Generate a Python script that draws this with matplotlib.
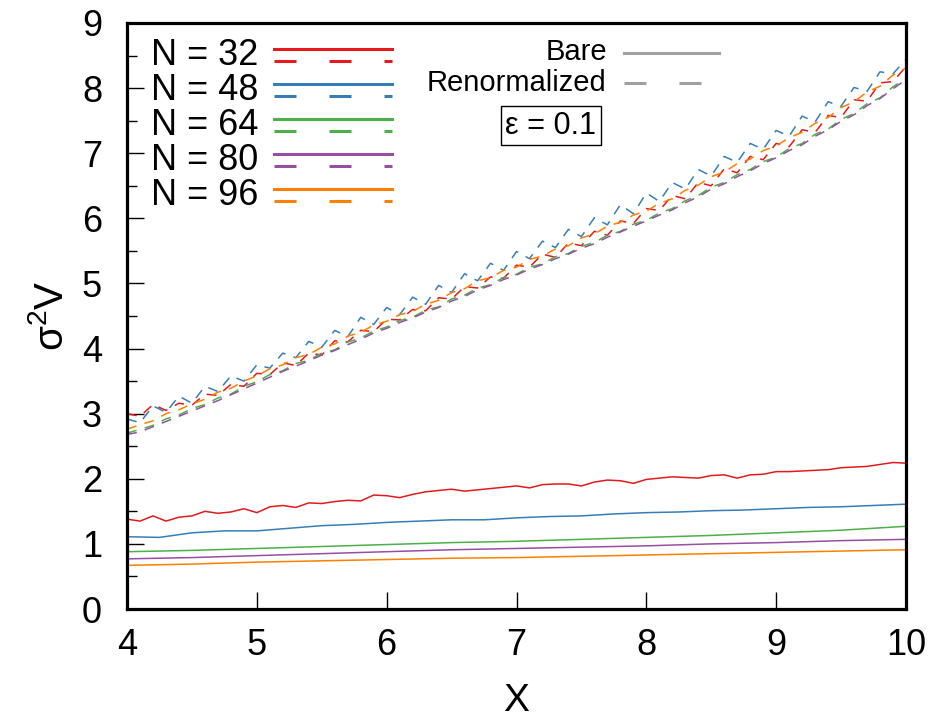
import numpy as np
import matplotlib
matplotlib.use("Agg")
import matplotlib.pyplot as plt
from matplotlib.lines import Line2D
from matplotlib.ticker import MultipleLocator

plt.rcParams['font.family'] = ['Liberation Sans', 'DejaVu Sans']
plt.rcParams['mathtext.fontset'] = 'custom'
plt.rcParams['mathtext.rm'] = 'Liberation Sans'

# system sizes and colours
sizes = [32, 48, 64, 80, 96]
colors = ['#e41a1c', '#377eb8', '#4daf4a', '#984ea3', '#ff7f00']

# bare variance
x_red_bare = np.linspace(4, 10, 61)
bare_32 = [1.38, 1.35, 1.43, 1.35, 1.41, 1.43, 1.50, 1.47, 1.49, 1.54, 1.48,
           1.57, 1.59, 1.56, 1.63, 1.62, 1.65, 1.67, 1.66, 1.75, 1.74,
           1.71, 1.76, 1.80, 1.82, 1.84, 1.81, 1.83, 1.85, 1.87, 1.89,
           1.86, 1.91, 1.92, 1.92, 1.89, 1.95, 1.98, 1.97, 1.93, 1.99,
           2.01, 2.03, 2.02, 2.01, 2.05, 2.06, 2.01, 2.06, 2.07, 2.11,
           2.11, 2.12, 2.13, 2.14, 2.17, 2.18, 2.19, 2.22, 2.25, 2.24]
x_blue_bare = np.linspace(4, 10, 25)
bare_48 = [1.11, 1.10, 1.17, 1.20, 1.20, 1.24, 1.28, 1.30, 1.33, 1.35, 1.37, 1.37,
           1.40, 1.42, 1.43, 1.46, 1.48, 1.49, 1.51, 1.52, 1.54, 1.56, 1.57, 1.59,
           1.61]
x_smooth_bare = np.linspace(4, 10, 13)
bare_64 = [0.88, 0.90, 0.93, 0.96, 0.99, 1.02, 1.04, 1.07, 1.10, 1.13, 1.17, 1.21, 1.27]
bare_80 = [0.77, 0.79, 0.82, 0.85, 0.88, 0.91, 0.93, 0.95, 0.97, 1.00, 1.02, 1.05, 1.07]
bare_96 = [0.67, 0.69, 0.72, 0.74, 0.76, 0.78, 0.79, 0.81, 0.83, 0.85, 0.87, 0.89, 0.91]

# renormalized variance
x_renorm = np.linspace(4, 10, 61)
renorm_32 = [3.00, 2.96, 3.14, 3.05, 3.16, 3.13, 3.30, 3.28, 3.45, 3.42, 3.62,
             3.60, 3.78, 3.74, 3.93, 3.90, 4.12, 4.10, 4.28, 4.26, 4.45,
             4.44, 4.60, 4.58, 4.78, 4.76, 4.95, 4.93, 5.10, 5.08, 5.28,
             5.25, 5.45, 5.40, 5.62, 5.58, 5.80, 5.74, 5.96, 5.92, 6.15,
             6.12, 6.35, 6.30, 6.55, 6.50, 6.76, 6.70, 6.95, 6.90, 7.15,
             7.10, 7.36, 7.32, 7.58, 7.55, 7.82, 7.80, 8.08, 8.10, 8.33]
renorm_48 = [2.92, 2.86, 3.12, 3.02, 3.27, 3.16, 3.42, 3.34, 3.58, 3.50, 3.75,
             3.70, 3.93, 3.86, 4.11, 4.02, 4.28, 4.18, 4.48, 4.37, 4.63,
             4.52, 4.79, 4.68, 4.97, 4.86, 5.15, 5.04, 5.31, 5.20, 5.49,
             5.38, 5.65, 5.55, 5.83, 5.72, 6.01, 5.90, 6.21, 6.07, 6.39,
             6.26, 6.55, 6.45, 6.75, 6.65, 6.95, 6.86, 7.15, 7.06, 7.35,
             7.26, 7.57, 7.48, 7.79, 7.72, 8.01, 7.95, 8.25, 8.22, 8.44]
renorm_64 = [2.70, 2.76, 2.82, 2.92, 2.98, 3.08, 3.14, 3.24, 3.30, 3.42, 3.49,
             3.60, 3.66, 3.77, 3.82, 3.93, 3.98, 4.10, 4.16, 4.27, 4.33,
             4.43, 4.48, 4.59, 4.64, 4.76, 4.82, 4.93, 4.98, 5.09, 5.14,
             5.25, 5.30, 5.41, 5.46, 5.57, 5.63, 5.74, 5.80, 5.91, 5.97,
             6.08, 6.15, 6.27, 6.35, 6.48, 6.55, 6.67, 6.75, 6.87, 6.94,
             7.07, 7.15, 7.29, 7.37, 7.52, 7.61, 7.76, 7.85, 8.02, 8.15]
renorm_80 = [2.68, 2.72, 2.80, 2.88, 2.96, 3.04, 3.12, 3.20, 3.29, 3.38, 3.47,
             3.56, 3.65, 3.73, 3.81, 3.90, 3.97, 4.06, 4.14, 4.24, 4.31,
             4.40, 4.47, 4.56, 4.63, 4.73, 4.80, 4.90, 4.97, 5.06, 5.13,
             5.22, 5.29, 5.38, 5.45, 5.54, 5.61, 5.71, 5.79, 5.88, 5.96,
             6.05, 6.13, 6.24, 6.33, 6.45, 6.53, 6.64, 6.73, 6.84, 6.93,
             7.04, 7.13, 7.26, 7.36, 7.49, 7.59, 7.73, 7.84, 7.99, 8.13]
renorm_96 = [2.76, 2.83, 2.89, 3.00, 3.06, 3.15, 3.22, 3.33, 3.39, 3.50, 3.58,
             3.69, 3.75, 3.86, 3.91, 4.02, 4.07, 4.19, 4.25, 4.36, 4.42,
             4.52, 4.57, 4.68, 4.74, 4.86, 4.92, 5.04, 5.09, 5.20, 5.25,
             5.37, 5.42, 5.53, 5.58, 5.70, 5.76, 5.88, 5.94, 6.05, 6.11,
             6.23, 6.30, 6.43, 6.51, 6.64, 6.71, 6.84, 6.91, 7.04, 7.11,
             7.24, 7.32, 7.46, 7.55, 7.70, 7.79, 7.94, 8.03, 8.20, 8.31]

bare = [(x_red_bare, bare_32), (x_blue_bare, bare_48), (x_smooth_bare, bare_64),
        (x_smooth_bare, bare_80), (x_smooth_bare, bare_96)]
renorm = [renorm_32, renorm_48, renorm_64, renorm_80, renorm_96]

fig = plt.figure(figsize=(9.34, 7.27), dpi=100)
ax = fig.add_axes([0.136, 0.1623, 0.834, 0.8061])

plot_dash = (0, (6.5, 5.5))
for c, (xb, yb), yr in zip(colors, bare, renorm):
    ax.plot(xb, yb, color=c, lw=1.1)
    ax.plot(x_renorm, yr, color=c, lw=1.1, ls=plot_dash)

ax.set_xlim(4, 10)
ax.set_ylim(0, 9)
ax.xaxis.set_major_locator(MultipleLocator(1))
ax.yaxis.set_major_locator(MultipleLocator(1))
ax.yaxis.set_minor_locator(MultipleLocator(0.5))
ax.tick_params(direction='in', which='both', top=False, right=False,
               labelsize=26, width=1.0)
ax.tick_params(axis='x', which='major', length=12, pad=14)
ax.tick_params(axis='y', which='major', length=12, pad=18)
ax.tick_params(axis='y', which='minor', length=7)
for s in ax.spines.values():
    s.set_linewidth(2.3)

ax.set_xlabel('X', fontsize=28, labelpad=14)
ax.set_ylabel(r'σ$^2$V', fontsize=29, labelpad=8)

# key: size labels with solid (bare) and dashed (renormalized) samples
key_dash = (0, (7.2, 10.8))
for i, (n, c) in enumerate(zip(sizes, colors)):
    yc = 0.945 - i * 0.0597
    ax.text(0.168, yc, f'N = {n}', transform=ax.transAxes, ha='right',
            va='center', fontsize=26)
    ax.add_line(Line2D([0.189, 0.340], [yc + 0.011, yc + 0.011], color=c,
                       lw=2.2, transform=ax.transAxes))
    ax.add_line(Line2D([0.189, 0.340], [yc - 0.010, yc - 0.010], color=c,
                       lw=2.2, ls=key_dash, transform=ax.transAxes))

ax.text(0.616, 0.950, 'Bare', transform=ax.transAxes, ha='right',
        va='center', fontsize=21)
ax.add_line(Line2D([0.638, 0.760], [0.949, 0.949], color='#a0a0a0', lw=2.2,
                   transform=ax.transAxes))
ax.text(0.616, 0.897, 'Renormalized', transform=ax.transAxes, ha='right',
        va='center', fontsize=21)
ax.add_line(Line2D([0.638, 0.740], [0.897, 0.897], color='#a0a0a0', lw=2.2,
                   ls=key_dash, transform=ax.transAxes))
ax.text(0.544, 0.825, 'ε = 0.1', transform=ax.transAxes, ha='center',
        va='center', fontsize=22,
        bbox=dict(boxstyle='square,pad=0.15', fc='white', ec='black', lw=1))

fig.savefig('out.png', dpi=100)
